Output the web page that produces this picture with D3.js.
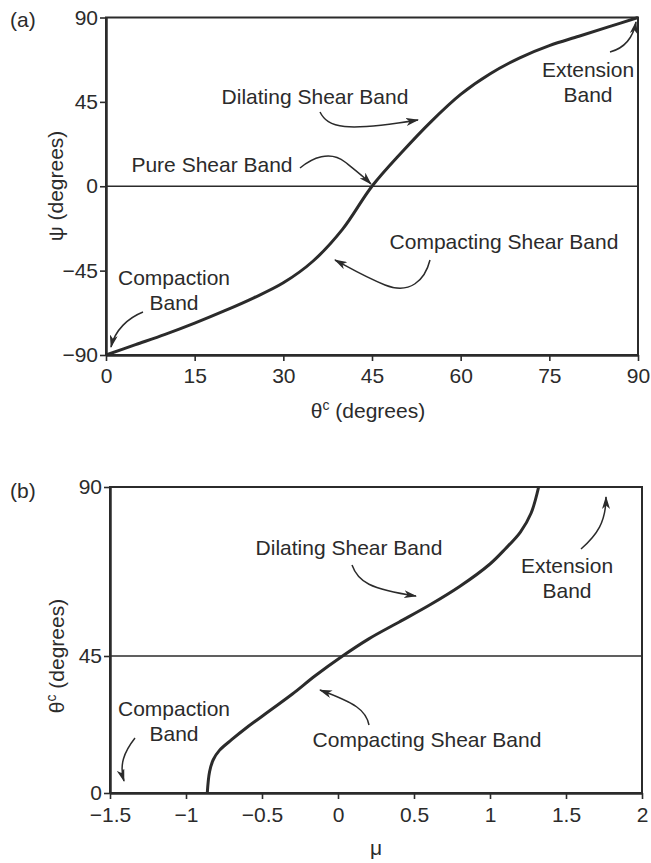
<!DOCTYPE html>
<html lang="en">
<head>
<meta charset="UTF-8"/>
<title>Shear band angles</title>
<script src="https://d3js.org/d3.v7.min.js"></script>
<style>
body { margin:0; background:#fff; }
svg text { font-family: "Liberation Sans", Arial, sans-serif; fill:#2b2b2b; }
</style>
</head>
<body>
<script>
// panel (a): dilatancy angle psi against band angle theta_c
var thetaA = [0, 5, 10, 15, 20, 25, 30, 35, 40, 45, 50, 55, 60, 65, 70, 75, 80, 85, 90];
var psiA   = [-90, -84.5, -79, -73, -66.5, -59.5, -51.5, -40, -23, 0, 18, 34.5, 49, 60, 68.5, 75, 80, 85, 90];

// panel (b): band angle theta_c against mu
var muB    = [-0.86, -0.845, -0.82, -0.78, -0.7, -0.6, -0.45, -0.3, -0.15, 0.03, 0.2, 0.4, 0.6, 0.8, 1.0, 1.1, 1.2, 1.27, 1.32];
var thetaB = [0, 7, 11, 14, 17.5, 21.5, 27, 32.5, 38.5, 45, 49.5, 54, 58.5, 63.5, 69.5, 73.5, 78, 83, 90];

// ticks
var ticksAx  = [0, 15, 30, 45, 60, 75, 90];
var ticksAy  = [-90, -45, 0, 45, 90];
var labelsAy = ["\u221290", "\u221245", "0", "45", "90"];
var ticksBx  = [-1.5, -1, -0.5, 0, 0.5, 1, 1.5, 2];
var labelsBx = ["\u22121.5", "\u22121", "\u22120.5", "0", "0.5", "1", "1.5", "2"];
var ticksBy  = [0, 45, 90];

var w = 651, h = 863;
var ink = "#2b2b2b";
var fs = 21;

var svg = d3.select("body").append("svg").attr("width", w).attr("height", h);

svg.append("defs").append("marker")
	.attr("id", "arr")
	.attr("viewBox", "0 0 13 8")
	.attr("refX", 12).attr("refY", 4)
	.attr("markerWidth", 13).attr("markerHeight", 8)
	.attr("markerUnits", "userSpaceOnUse")
	.attr("orient", "auto")
	.append("path")
	.attr("d", "M0,0 L13,4 L0,8 L3.5,4 Z")
	.attr("fill", ink);

// scales
var xA = d3.scaleLinear().domain([0, 90]).range([106, 638]);
var yA = d3.scaleLinear().domain([-90, 90]).range([355, 17.5]);
var xB = d3.scaleLinear().domain([-1.5, 2]).range([110, 642]);
var yB = d3.scaleLinear().domain([0, 45, 90]).range([793, 656, 487]);

function drawFrame(x, y, xTicks, xLabels, yTicks, yLabels, xPad) {
	var g = svg.append("g");
	var x0 = x.range()[0], x1 = x.range()[1];
	var yr = y.range(), ybot = yr[0], ytop = yr[yr.length - 1];

	g.append("rect")
		.attr("x", x0).attr("y", ytop)
		.attr("width", x1 - x0).attr("height", ybot - ytop)
		.attr("fill", "none").attr("stroke", ink).attr("stroke-width", 2);

	var ax = d3.axisBottom(x).tickValues(xTicks).tickSize(6).tickSizeOuter(0).tickPadding(xPad)
		.tickFormat(function(d, i) { return xLabels[i]; });
	var gx = g.append("g").attr("transform", "translate(0," + ybot + ")").call(ax);

	var ay = d3.axisLeft(y).tickValues(yTicks).tickSize(6).tickSizeOuter(0).tickPadding(2)
		.tickFormat(function(d, i) { return yLabels[i]; });
	var gy = g.append("g").attr("transform", "translate(" + x0 + ",0)").call(ay);

	[gx, gy].forEach(function(a) {
		a.select(".domain").attr("stroke", ink).attr("stroke-width", 2.5);
		a.selectAll(".tick line").attr("stroke", ink).attr("stroke-width", 1.6);
		a.selectAll(".tick text").attr("font-size", fs).attr("fill", ink)
			.style("font-family", "'Liberation Sans', Arial, sans-serif");
	});
	return g;
}

// ---------- panel (a)
drawFrame(xA, yA, ticksAx, ticksAx.map(String), ticksAy, labelsAy, 7);

svg.append("line")
	.attr("x1", xA(0)).attr("x2", xA(90))
	.attr("y1", yA(0)).attr("y2", yA(0))
	.attr("stroke", ink).attr("stroke-width", 1.6);

var lineA = d3.line()
	.x(function(d) { return xA(d[0]); })
	.y(function(d) { return yA(d[1]); })
	.curve(d3.curveCatmullRom.alpha(0.5));

svg.append("path")
	.datum(d3.zip(thetaA, psiA))
	.attr("d", lineA)
	.attr("fill", "none").attr("stroke", ink).attr("stroke-width", 3);

svg.append("text").attr("x", 10).attr("y", 27).attr("font-size", fs).text("(a)");

svg.append("text")
	.attr("transform", "translate(63,186) rotate(-90)")
	.attr("text-anchor", "middle").attr("font-size", fs)
	.text("\u03c8 (degrees)");

var tA = svg.append("text").attr("x", 368).attr("y", 418)
	.attr("text-anchor", "middle").attr("font-size", fs);
tA.append("tspan").text("\u03b8");
tA.append("tspan").attr("dy", -8).attr("font-size", 14).text("c");
tA.append("tspan").attr("dy", 8).text(" (degrees)");

// ---------- panel (b)
drawFrame(xB, yB, ticksBx, labelsBx, ticksBy, ticksBy.map(String), 8);

svg.append("line")
	.attr("x1", xB(-1.5)).attr("x2", xB(2))
	.attr("y1", yB(45)).attr("y2", yB(45))
	.attr("stroke", ink).attr("stroke-width", 1.6);

var lineB = d3.line()
	.x(function(d) { return xB(d[0]); })
	.y(function(d) { return yB(d[1]); })
	.curve(d3.curveCatmullRom.alpha(0.5));

svg.append("path")
	.datum(d3.zip(muB, thetaB))
	.attr("d", lineB)
	.attr("fill", "none").attr("stroke", ink).attr("stroke-width", 3);

svg.append("text").attr("x", 10).attr("y", 498).attr("font-size", fs).text("(b)");

var tB = svg.append("text")
	.attr("transform", "translate(64,656) rotate(-90)")
	.attr("text-anchor", "middle").attr("font-size", fs);
tB.append("tspan").text("\u03b8");
tB.append("tspan").attr("dy", -8).attr("font-size", 14).text("c");
tB.append("tspan").attr("dy", 8).text(" (degrees)");

svg.append("text").attr("x", 376).attr("y", 855)
	.attr("text-anchor", "middle").attr("font-size", fs).text("\u03bc");

// ---------- callouts (pixel positions, hand drawn in the original)
var notes = [
	{ lines: ["Dilating Shear Band"], x: 315, y: 104 },
	{ lines: ["Pure Shear Band"], x: 212, y: 172 },
	{ lines: ["Compacting Shear Band"], x: 504, y: 249 },
	{ lines: ["Compaction", "Band"], x: 174, y: 285 },
	{ lines: ["Extension", "Band"], x: 588, y: 77 },
	{ lines: ["Dilating Shear Band"], x: 349, y: 555 },
	{ lines: ["Compacting Shear Band"], x: 427, y: 747 },
	{ lines: ["Compaction", "Band"], x: 174, y: 716 },
	{ lines: ["Extension", "Band"], x: 567, y: 573 }
];

var arrows = [
	"M320,112 C328,128 345,132 418,120",
	"M300,168 C312,158 330,150 345,162 C355,170 364,177 371,184",
	"M430,260 C425,280 410,295 385,285 C365,277 350,268 335,260",
	"M143,312 C128,318 115,330 111,347",
	"M610,52 C625,48 633,38 636,22",
	"M352,565 C358,582 370,589 416,596",
	"M369,725 C366,710 355,703 320,690",
	"M135,738 C124,752 119,765 124,781",
	"M581,549 C597,535 606,522 606,497"
];

notes.forEach(function(n) {
	var t = svg.append("text").attr("text-anchor", "middle").attr("font-size", fs);
	n.lines.forEach(function(s, i) {
		t.append("tspan").attr("x", n.x).attr("y", n.y + i * 25).text(s);
	});
});

svg.selectAll("path.arrow")
	.data(arrows)
	.enter()
	.append("path")
	.attr("class", "arrow")
	.attr("d", function(d) { return d; })
	.attr("fill", "none").attr("stroke", ink).attr("stroke-width", 1.5)
	.attr("marker-end", "url(#arr)");
</script>
</body>
</html>
